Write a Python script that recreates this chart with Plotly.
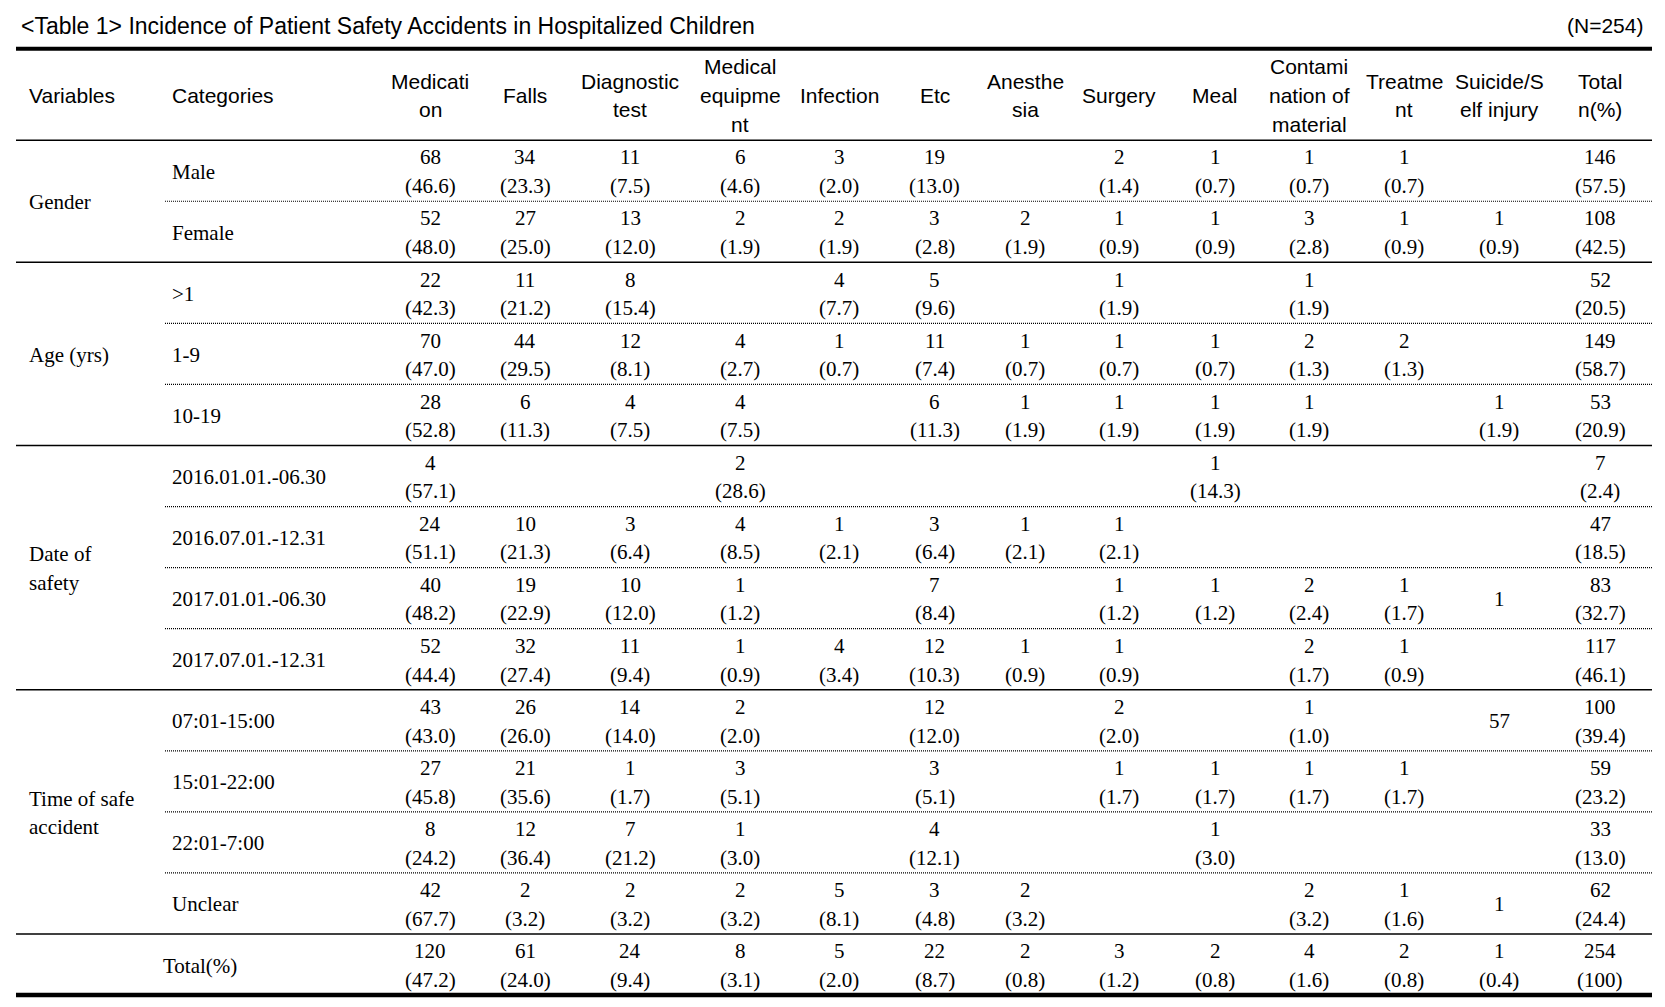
import plotly.graph_objects as go

# ---------------- data ----------------
title_text = "&lt;Table 1&gt; Incidence of Patient Safety Accidents in Hospitalized Children"
n_text = "(N=254)"

header_variables = "Variables"
header_categories = "Categories"
col_headers = [
    "Medicati<br>on", "Falls", "Diagnostic<br>test", "Medical<br>equipme<br>nt",
    "Infection", "Etc", "Anesthe<br>sia", "Surgery", "Meal",
    "Contami<br>nation of<br>material", "Treatme<br>nt", "Suicide/S<br>elf injury",
    "Total<br>n(%)",
]

group_labels = ["Gender", "Age (yrs)", "Date of<br>safety", "Time of safe<br>accident"]
group_sizes = [2, 3, 4, 4]

categories = [
    "Male", "Female", ">1", "1-9", "10-19",
    "2016.01.01.-06.30", "2016.07.01.-12.31", "2017.01.01.-06.30", "2017.07.01.-12.31",
    "07:01-15:00", "15:01-22:00", "22:01-7:00", "Unclear", "Total(%)",
]

N = None
counts = [
    [68, 34, 11, 6, 3, 19, N, 2, 1, 1, 1, N, 146],
    [52, 27, 13, 2, 2, 3, 2, 1, 1, 3, 1, 1, 108],
    [22, 11, 8, N, 4, 5, N, 1, N, 1, N, N, 52],
    [70, 44, 12, 4, 1, 11, 1, 1, 1, 2, 2, N, 149],
    [28, 6, 4, 4, N, 6, 1, 1, 1, 1, N, 1, 53],
    [4, N, N, 2, N, N, N, N, 1, N, N, N, 7],
    [24, 10, 3, 4, 1, 3, 1, 1, N, N, N, N, 47],
    [40, 19, 10, 1, N, 7, N, 1, 1, 2, 1, 1, 83],
    [52, 32, 11, 1, 4, 12, 1, 1, N, 2, 1, N, 117],
    [43, 26, 14, 2, N, 12, N, 2, N, 1, N, 57, 100],
    [27, 21, 1, 3, N, 3, N, 1, 1, 1, 1, N, 59],
    [8, 12, 7, 1, N, 4, N, N, 1, N, N, N, 33],
    [42, 2, 2, 2, 5, 3, 2, N, N, 2, 1, 1, 62],
    [120, 61, 24, 8, 5, 22, 2, 3, 2, 4, 2, 1, 254],
]
percents = [
    [46.6, 23.3, 7.5, 4.6, 2.0, 13.0, N, 1.4, 0.7, 0.7, 0.7, N, 57.5],
    [48.0, 25.0, 12.0, 1.9, 1.9, 2.8, 1.9, 0.9, 0.9, 2.8, 0.9, 0.9, 42.5],
    [42.3, 21.2, 15.4, N, 7.7, 9.6, N, 1.9, N, 1.9, N, N, 20.5],
    [47.0, 29.5, 8.1, 2.7, 0.7, 7.4, 0.7, 0.7, 0.7, 1.3, 1.3, N, 58.7],
    [52.8, 11.3, 7.5, 7.5, N, 11.3, 1.9, 1.9, 1.9, 1.9, N, 1.9, 20.9],
    [57.1, N, N, 28.6, N, N, N, N, 14.3, N, N, N, 2.4],
    [51.1, 21.3, 6.4, 8.5, 2.1, 6.4, 2.1, 2.1, N, N, N, N, 18.5],
    [48.2, 22.9, 12.0, 1.2, N, 8.4, N, 1.2, 1.2, 2.4, 1.7, N, 32.7],
    [44.4, 27.4, 9.4, 0.9, 3.4, 10.3, 0.9, 0.9, N, 1.7, 0.9, N, 46.1],
    [43.0, 26.0, 14.0, 2.0, N, 12.0, N, 2.0, N, 1.0, N, N, 39.4],
    [45.8, 35.6, 1.7, 5.1, N, 5.1, N, 1.7, 1.7, 1.7, 1.7, N, 23.2],
    [24.2, 36.4, 21.2, 3.0, N, 12.1, N, N, 3.0, N, N, N, 13.0],
    [67.7, 3.2, 3.2, 3.2, 8.1, 4.8, 3.2, N, N, 3.2, 1.6, N, 24.4],
    [47.2, 24.0, 9.4, 3.1, 2.0, 8.7, 0.8, 1.2, 0.8, 1.6, 0.8, 0.4, 100],
]

# ---------------- layout constants ----------------
W, H = 1665, 1007
ROW_TOP = 140.2
ROW_H = 61.06
HALF = 14.3
TEXT_DY = 1.0
LINE_SP = 28.7
HEADER_Y = 95.6
X_VAR = 26.5
X_CAT = 170
X_TOTAL_LABEL = 161
COL_X = [430, 525, 630, 740, 839, 934.5, 1025, 1119, 1215, 1309, 1404, 1499, 1600]
TABLE_L, TABLE_R = 16, 1652
DOT_L = 165
TOP_RULE_Y = 48.8
TITLE_Y = 25.5

SANS = "Liberation Sans, Arial, sans-serif"
SERIF = "Liberation Serif, Times New Roman, serif"
TITLE_FONT = dict(family=SANS, size=23, color="black")
HDR_FONT = dict(family=SANS, size=21, color="black")
CELL_FONT = dict(family=SERIF, size=21, color="black")

fig = go.Figure()
annotations = []
shapes = []


def add_text(text, x, y, font, xanchor="center"):
    annotations.append(dict(
        text=text, x=x, y=y, xref="x", yref="y", showarrow=False,
        xanchor=xanchor, yanchor="middle", font=font,
    ))


def add_lines(text, x, yc, font, xanchor="center"):
    parts = text.split("<br>")
    n = len(parts)
    for k, p in enumerate(parts):
        add_text(p, x, yc + (k - (n - 1) / 2) * LINE_SP, font, xanchor)


def hline(y, x0, x1, width, dash="solid"):
    shapes.append(dict(type="line", xref="x", yref="y", x0=x0, x1=x1, y0=y, y1=y,
                       line=dict(color="black", width=width, dash=dash)))


# title
add_text(title_text, 19, TITLE_Y, TITLE_FONT, "left")
add_text(n_text, 1645, TITLE_Y, HDR_FONT, "right")

# header
add_text(header_variables, X_VAR, HEADER_Y, HDR_FONT, "left")
add_text(header_categories, X_CAT, HEADER_Y, HDR_FONT, "left")
for cx, lab in zip(COL_X, col_headers):
    add_lines(lab, cx, HEADER_Y, HDR_FONT)

# rules
hline(TOP_RULE_Y, TABLE_L, TABLE_R, 4)
hline(ROW_TOP, TABLE_L, TABLE_R, 1.5)
n_rows = len(categories)
hline(ROW_TOP + n_rows * ROW_H, TABLE_L, TABLE_R, 4.5)

group_ends = []
acc = 0
for g in group_sizes:
    acc += g
    group_ends.append(acc)
for r in range(1, n_rows):
    y = ROW_TOP + r * ROW_H
    if r in group_ends:
        hline(y, TABLE_L, TABLE_R, 1.5)
    else:
        hline(y, DOT_L, TABLE_R, 1.2, dash="1px,1px")

# group labels
start = 0
for lab, g in zip(group_labels, group_sizes):
    yc = ROW_TOP + (start + g / 2) * ROW_H + TEXT_DY
    add_lines(lab, X_VAR, yc, CELL_FONT, "left")
    start += g

# category labels and cells
for r, cat in enumerate(categories):
    yc = ROW_TOP + (r + 0.5) * ROW_H + TEXT_DY
    x_lab = X_TOTAL_LABEL if r == n_rows - 1 else X_CAT
    add_text(cat, x_lab, yc, CELL_FONT, "left")
    for c, cx in enumerate(COL_X):
        v = counts[r][c]
        p = percents[r][c]
        if v is None:
            continue
        if p is None:
            add_text(str(v), cx, yc, CELL_FONT)
        else:
            add_text(str(v), cx, yc - HALF, CELL_FONT)
            ptxt = "(100)" if p == 100 else f"({p:.1f})"
            add_text(ptxt, cx, yc + HALF, CELL_FONT)

fig.update_layout(
    width=W, height=H,
    margin=dict(l=0, r=0, t=0, b=0, pad=0),
    paper_bgcolor="white", plot_bgcolor="white",
    showlegend=False,
    xaxis=dict(range=[0, W], visible=False, fixedrange=True),
    yaxis=dict(range=[H, 0], visible=False, fixedrange=True),
    annotations=annotations,
    shapes=shapes,
)

fig.write_html("out.html", post_script="document.body.style.margin='0';",
               config={"displayModeBar": False})
